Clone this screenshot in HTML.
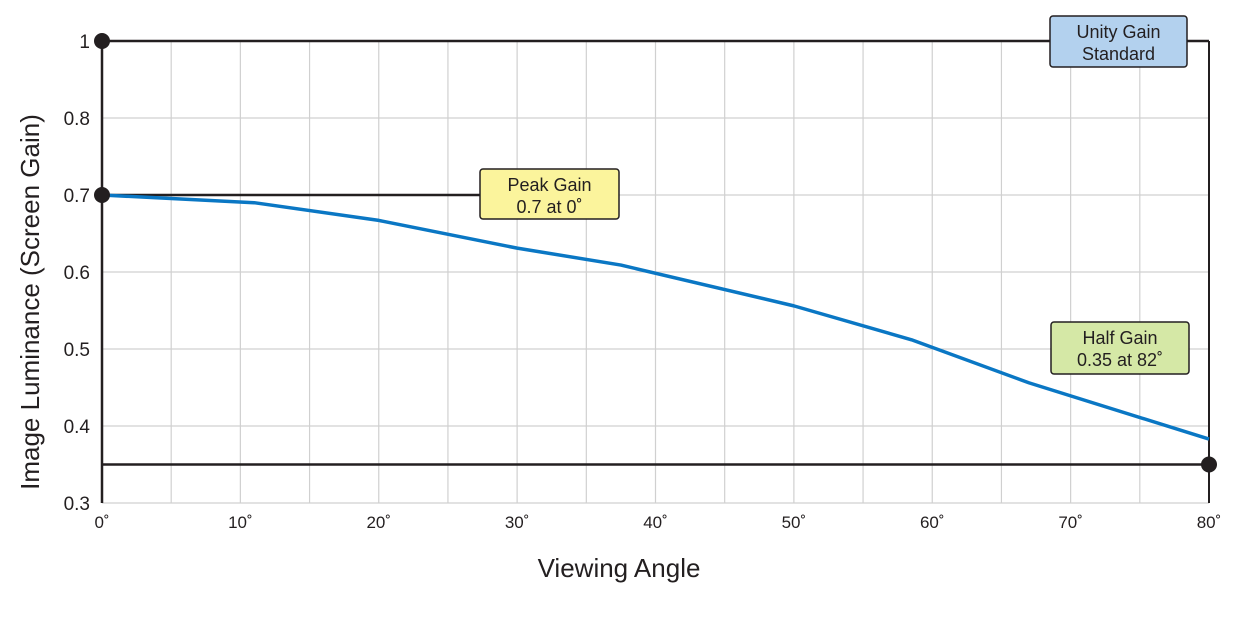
<!DOCTYPE html>
<html><head><meta charset="utf-8"><style>
body{margin:0;background:#fff}
svg text{font-family:"Liberation Sans",sans-serif;fill:#231f20}
</style></head><body>
<svg id="chart" width="1238" height="612" xmlns="http://www.w3.org/2000/svg"></svg>
<script>
const angles=[0,11,20,30,37.5,50,58.5,67,80];
const gains=[0.7,0.69,0.667,0.631,0.609,0.556,0.512,0.456,0.383];
const yTicks=[0.3,0.4,0.5,0.6,0.7,0.8];
const xTicks=[0,10,20,30,40,50,60,70,80];
const unityGain=1, peakGain=0.7, halfGain=0.35;
const X0=102,X1=1209,YB=503,YT=41;
const x=a=>X0+(a-0)/(80-0)*(X1-X0);
const y=v=>v>=1?YT:YB-(v-0.3)/(0.9-0.3)*(YB-YT);
const svg=document.getElementById('chart');
const NS='http://www.w3.org/2000/svg';
function mk(t,a,p){const e=document.createElementNS(NS,t);for(const k in a)e.setAttribute(k,a[k]);(p||svg).appendChild(e);return e;}
// grid
for(let a=5;a<=80;a+=5){const l=mk('line',{x1:x(a),x2:x(a),y1:YT,y2:YB,stroke:'#d0d0d0','stroke-width':1.2});

}
for(const v of yTicks){const l=mk('line',{x1:X0,x2:X1,y1:y(v),y2:y(v),stroke:'#d0d0d0','stroke-width':1.2});


const t=mk('text',{x:X0-12,y:y(v)+7,'text-anchor':'end','font-size':19});t.textContent=v;

}
const t1=mk('text',{x:X0-12,y:YT+7,'text-anchor':'end','font-size':19});t1.textContent='1';


for(const a of xTicks){const t=mk('text',{x:x(a),y:528,'text-anchor':'middle','font-size':17});t.textContent=a+'˚';

}
// axes
const ax=mk('line',{x1:X0,x2:X0,y1:YT,y2:YB,stroke:'#231f20','stroke-width':2.5});


const rx=mk('line',{x1:X1,x2:X1,y1:YT,y2:YB,stroke:'#231f20','stroke-width':2});


// reference lines
const u=mk('line',{x1:X0,x2:X1,y1:y(unityGain),y2:y(unityGain),stroke:'#231f20','stroke-width':2.5});


const p=mk('line',{x1:X0,x2:480,y1:y(peakGain),y2:y(peakGain),stroke:'#231f20','stroke-width':2.5});


const h=mk('line',{x1:X0,x2:X1,y1:y(halfGain),y2:y(halfGain),stroke:'#231f20','stroke-width':2.5});


// curve
const c=mk('polyline',{points:angles.map((a,i)=>x(a)+','+y(gains[i])).join(' '),fill:'none',stroke:'#0a77c4','stroke-width':3.5,'stroke-linejoin':'round'});


// dots
for(const [cx,cy] of [[X0,y(unityGain)],[X0,y(peakGain)],[X1,y(halfGain)]]){const d=mk('circle',{cx,cy,r:8,fill:'#231f20'});

}
// callouts
function box(bx,by,w,hh,fill,l1,l2,name){const g=mk('g',{});


mk('rect',{x:bx,y:by,width:w,height:hh,rx:3,fill,stroke:'#231f20','stroke-width':1.5},g);
const a=mk('text',{x:bx+w/2,y:by+22,'text-anchor':'middle','font-size':18},g);a.textContent=l1;
const b=mk('text',{x:bx+w/2,y:by+44,'text-anchor':'middle','font-size':18},g);b.textContent=l2;}
box(1050,16,137,51,'#b3d1ee','Unity Gain','Standard','unity-gain-callout');
box(480,169,139,50,'#fbf49c','Peak Gain','0.7 at 0˚','peak-gain-callout');
box(1051,322,138,52,'#d5e8a6','Half Gain','0.35 at 82˚','half-gain-callout');
// axis titles
const xt=mk('text',{x:619,y:577,'text-anchor':'middle','font-size':26});xt.textContent='Viewing Angle';


const yt=mk('text',{x:0,y:0,'text-anchor':'middle','font-size':26,transform:'translate(39,302) rotate(-90)'});yt.textContent='Image Luminance (Screen Gain)';


</script>
</body></html>
